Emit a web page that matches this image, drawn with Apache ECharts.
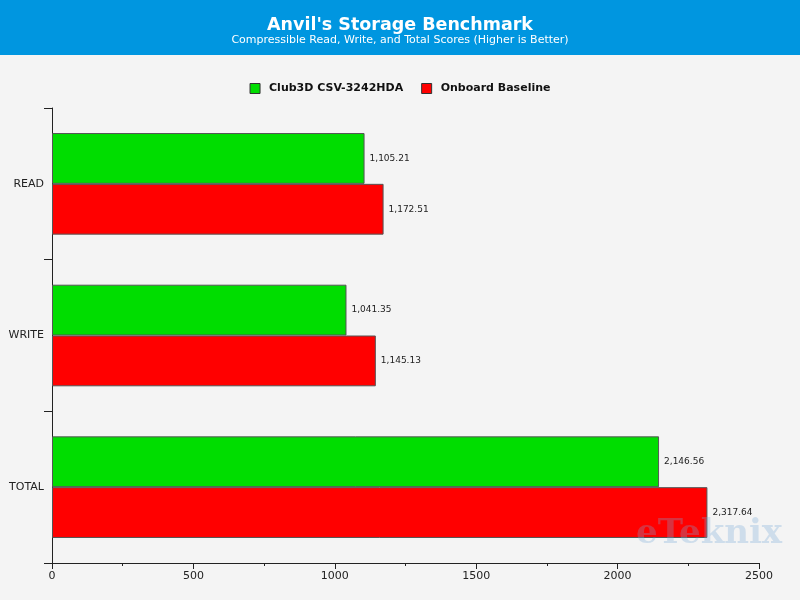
<!DOCTYPE html>
<html><head><meta charset="utf-8">
<script src="https://cdn.jsdelivr.net/npm/echarts@6/dist/echarts.min.js"></script>
<style>html,body{margin:0;padding:0;background:#f4f4f4}#c{width:800px;height:600px}</style>
</head><body><div id="c"></div>
<script>
const categories = ['READ', 'WRITE', 'TOTAL'];
const seriesNames = ['Club3D CSV-3242HDA', 'Onboard Baseline'];
const club3dValues = [1105.21, 1041.35, 2146.56];
const onboardValues = [1172.51, 1145.13, 2317.64];
const xTicks = [0, 500, 1000, 1500, 2000, 2500];

const chart = echarts.init(document.getElementById('c'));
const fmt = v => v.toLocaleString('en-US', {minimumFractionDigits: 2, maximumFractionDigits: 2});
const font = 'Tahoma, "DejaVu Sans", sans-serif';
chart.setOption({
  backgroundColor: '#f4f4f4',
  animation: false,
  graphic: [
    {type: 'rect', left: 0, top: 0, shape: {width: 800, height: 55}, style: {fill: '#0096e0'}, z: -1},
    {type: 'text', left: 'center', top: 16, style: {text: "Anvil's Storage Benchmark", fill: '#fff', font: 'bold 17.5px ' + font}},
    {type: 'text', left: 'center', top: 35, style: {text: 'Compressible Read, Write, and Total Scores (Higher is Better)', fill: '#fff', font: '11px ' + font}},
    {type: 'text', left: 636, top: 517, style: {text: 'eTeknix', fill: 'rgba(120,170,215,0.3)', font: 'bold 34px "DejaVu Serif", serif'}, z: 100}
  ],
  legend: {
    top: 78, left: 'center', itemWidth: 10, itemHeight: 10, itemGap: 18,
    textStyle: {fontFamily: font, fontWeight: 'bold', fontSize: 11, color: '#111', padding: [0, 0, 0, 4]},
    data: seriesNames.map(n => ({name: n, icon: 'rect', itemStyle: {borderColor: '#333', borderWidth: 1}}))
  },
  grid: {left: 52, right: 41, top: 108, bottom: 37, containLabel: false},
  xAxis: {
    type: 'value', min: xTicks[0], max: xTicks[xTicks.length - 1], interval: 500,
    axisLine: {show: true, lineStyle: {color: '#222'}},
    axisTick: {show: true, length: 6, lineStyle: {color: '#222'}},
    minorTick: {show: true, splitNumber: 2, length: 3, lineStyle: {color: '#222'}},
    splitLine: {show: false},
    axisLabel: {fontFamily: font, fontSize: 11, color: '#222', margin: 8, formatter: v => String(v)}
  },
  yAxis: {
    type: 'category', data: categories, inverse: true,
    axisLine: {show: true, onZero: false, lineStyle: {color: '#222'}},
    axisTick: {show: true, length: 8, lineStyle: {color: '#222'}},
    axisLabel: {fontFamily: font, fontSize: 11, color: '#222', margin: 8}
  },
  series: [
    {name: seriesNames[0], type: 'bar', data: club3dValues, barGap: '0%', barCategoryGap: '33%',
     itemStyle: {color: '#00dd00', borderColor: '#555', borderWidth: 1},
     label: {show: true, position: 'right', distance: 5, formatter: p => fmt(p.value), fontFamily: font, fontSize: 9, color: '#222'}},
    {name: seriesNames[1], type: 'bar', data: onboardValues, barGap: '0%', barCategoryGap: '33%',
     itemStyle: {color: '#ff0000', borderColor: '#555', borderWidth: 1},
     label: {show: true, position: 'right', distance: 5, formatter: p => fmt(p.value), fontFamily: font, fontSize: 9, color: '#222'}}
  ]
});
</script></body></html>
